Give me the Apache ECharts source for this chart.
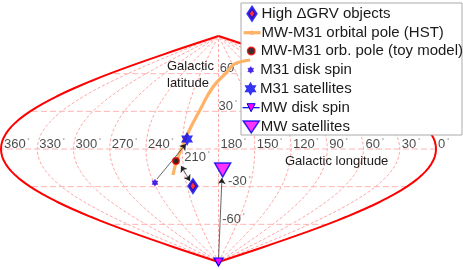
<!DOCTYPE html>
<html><head><meta charset="utf-8">
<style>html,body{margin:0;padding:0;background:#fff}#c{width:463px;height:270px}</style>
<script src="https://cdn.jsdelivr.net/npm/echarts@6/dist/echarts.min.js"></script>
</head><body><div id="c"></div>
<script>
// Data: [galactic longitude, galactic latitude]
const highDGRV = [[204.3, -29.5]];
const orbitalPoleHST = [[220.3,-20.7],[214.8,-8.8],[209.4,3.2],[206.6,11.2],[197.9,31.1],[187,49.4],[165.3,61.3],[149.4,66.9],[129.6,69.3],[100,70.9]];
const orbitalPoleToy = [[215.7, -9.6]];
const m31DiskSpin = [[238.9, -26.8]];
const m31Satellites = [[206.3, 8]];
const mwDiskSpin = [[180, -90]];
const mwSatellites = [[176.4, -16.7]];
const arrowSegments = [
  {from:[235.7,-23.9], to:[207,4], both:false},
  {from:[211.9,-13.5], to:[206.1,-25.5], both:true},
  {from:[180,-88.4], to:[176.9,-23.1], both:false}
];
const meridianLons = [30,60,90,120,150,180,210,240,270,300,330];
const parallelLats = [-60,-30,30,60];
const lonTicks = [360,330,300,270,240,210,180,150,120,90,60,30,0];
const latTicks = [[60,'60',178,60],[30,'30',180,30],[-30,'-30',170.9,-30],[-60,'-60',174,-60]];

const proj = p => [(180 - p[0]) * Math.cos(p[1] * Math.PI / 180), p[1]];
const meridian = lon => { const a = []; for (let b = -90; b <= 90; b += 3) a.push(proj([lon, b])); return a; };
const parallel = lat => { const a = []; for (let l = 0; l <= 360; l += 10) a.push(proj([l, lat])); return a; };

const hexagram = 'path://M0,-10 L8.66,5 L-8.66,5 Z M0,10 L-8.66,-5 L8.66,-5 Z';
const triDown = 'path://M0,0 L20,0 L10,18 Z';
const BLUE = '#0000ee', MAG = '#ff00ff', ORANGE = '#ffb266', TXT = '#1a1a1a';
const tickRich = {a:{fontSize:13,color:TXT,fontFamily:'Liberation Sans'},b:{fontSize:6,color:'#555',verticalAlign:'top',fontFamily:'Liberation Sans',padding:[0,0,6,0]}};

const series = [];
meridianLons.forEach(l => series.push({type:'line', data:meridian(l), showSymbol:false, silent:true, clip:false, z:1,
  lineStyle:{color:'#ff8f8f', width:0.8, type:[3,2]}}));
parallelLats.concat([0]).forEach(b => series.push({type:'line', data:parallel(b), showSymbol:false, silent:true, clip:false, z:1,
  lineStyle:{color:'#ffb3b3', width:1, type:[6,3]}}));
[0,360].forEach(l => series.push({type:'line', data:meridian(l), showSymbol:false, silent:true, clip:false, z:1.5,
  lineStyle:{color:'#ff0000', width:2}}));

const labelPts = [];
lonTicks.forEach(l => {
  labelPts.push({value: proj([l, 0]), label:{show:true, position:'inside', align:'left', verticalAlign:'middle',
    offset:[l===360?3:2, l===210?8:-5], formatter:'{a|'+l+'}{b| °}', rich:tickRich}});
});
latTicks.forEach(t => {
  labelPts.push({value: proj([t[2], t[3]]), label:{show:true, position:'inside', align:'left', verticalAlign:'middle',
    offset:[0,-5], formatter:'{a|'+t[1]+'}{b| °}', rich:tickRich}});
});
series.push({type:'scatter', data:labelPts, symbolSize:1, itemStyle:{color:'transparent'}, silent:true, clip:false, z:2.5});

series.push({type:'line', name:'MW-M31 orbital pole (HST)', data:orbitalPoleHST.map(proj), smooth:true, showSymbol:false, clip:false, z:3,
  itemStyle:{color:ORANGE}, lineStyle:{color:ORANGE, width:3.2}});
series.push({type:'scatter', name:'High \u0394GRV objects', data:highDGRV.map(proj), symbol:'diamond', symbolSize:[8,12], clip:false, z:5,
  itemStyle:{color:'#ff0000', borderColor:BLUE, borderWidth:3}});
series.push({type:'scatter', name:'MW-M31 orb. pole (toy model)', data:orbitalPoleToy.map(proj), symbol:'circle', symbolSize:6.5, clip:false, z:5,
  itemStyle:{color:'#000', borderColor:'#ff0000', borderWidth:1.5}});
series.push({type:'scatter', name:'M31 disk spin', data:m31DiskSpin.map(proj), symbol:hexagram, symbolSize:[6,7], clip:false, z:5,
  itemStyle:{color:BLUE, borderColor:'#5500cc', borderWidth:0.5}});
series.push({type:'scatter', name:'M31 satellites', data:m31Satellites.map(proj), symbol:hexagram, symbolSize:[12,14], clip:false, z:5,
  itemStyle:{color:BLUE}});
series.push({type:'line', name:'MW disk spin', data:mwDiskSpin.map(proj), symbol:triDown, symbolSize:[9,8], showSymbol:true, clip:false, z:5,
  itemStyle:{color:MAG, borderColor:BLUE, borderWidth:1.2}, lineStyle:{color:BLUE, width:1.2}});
series.push({type:'scatter', name:'MW satellites', data:mwSatellites.map(proj), symbol:triDown, symbolSize:[16,14], clip:false, z:5,
  itemStyle:{color:MAG, borderColor:BLUE, borderWidth:1.5}});

arrowSegments.forEach(a => series.push({type:'line', data:[], silent:true, z:4,
  markLine:{silent:true, animation:false, symbol:[a.both?'arrow':'none','arrow'], symbolSize:6, precision:4, label:{show:false},
    lineStyle:{color:'#222', width:0.7, type:'solid'},
    data:[[{coord:proj(a.from)},{coord:proj(a.to)}]]}}));

const rows = [
  {name:'High \u0394GRV objects', cy:13.7, cx:250.5, w:8, h:12, bw:3, lw:0},
  {name:'MW-M31 orbital pole (HST)', cy:32.7, cx:250.5, w:17, h:3, bw:0, lw:3.2},
  {name:'MW-M31 orb. pole (toy model)', cy:51, cx:250.5, w:7.5, h:7.5, bw:1.5, lw:0},
  {name:'M31 disk spin', cy:70, cx:250.5, w:6, h:7, bw:0.5, lw:0},
  {name:'M31 satellites', cy:88.7, cx:250.5, w:12, h:14, bw:0, lw:0},
  {name:'MW disk spin', cy:107.7, cx:250.5, w:17, h:10, bw:1, lw:1.2},
  {name:'MW satellites', cy:127, cx:250.5, w:16, h:12, bw:1.5, lw:0}
];
const FS = 15, LH = 16;
const legend = rows.map(r => ({
  show:true, data:[r.name], orient:'horizontal', selectedMode:false, padding:0, itemGap:0, symbolKeepAspect:false, z:6,
  left: r.cx - r.w/2, top: r.cy - Math.max(r.h, LH)/2, itemWidth:r.w, itemHeight:r.h,
  itemStyle:{borderWidth:r.bw}, lineStyle:{width:r.lw},
  textStyle:{fontFamily:'Liberation Sans', fontSize:FS, lineHeight:LH, color:TXT, padding:[0,0,0, 255 - r.w - (r.cx - r.w/2)]}
}));

const chart = echarts.init(document.getElementById('c'), null, {renderer:'canvas'});
chart.setOption({
  animation:false,
  backgroundColor:'#fff',
  grid:{left:1, width:435, top:36, height:226},
  xAxis:{type:'value', min:-180, max:180, show:false},
  yAxis:{type:'value', min:-90, max:90, show:false},
  legend,
  series,
  graphic:[
    {type:'rect', z:3, zlevel:0, shape:{x:241, y:3, width:221, height:132}, style:{fill:'#fff', stroke:'#aaaaaa', lineWidth:1}},
    {type:'text', z:3, left:167, top:60, style:{text:'Galactic', font:'13px "Liberation Sans"', fill:TXT}},
    {type:'text', z:3, left:167, top:77, style:{text:'latitude', font:'13px "Liberation Sans"', fill:TXT}},
    {type:'text', z:3, left:285, top:155, style:{text:'Galactic longitude', font:'13px "Liberation Sans"', fill:TXT}}
  ]
});
</script></body></html>
